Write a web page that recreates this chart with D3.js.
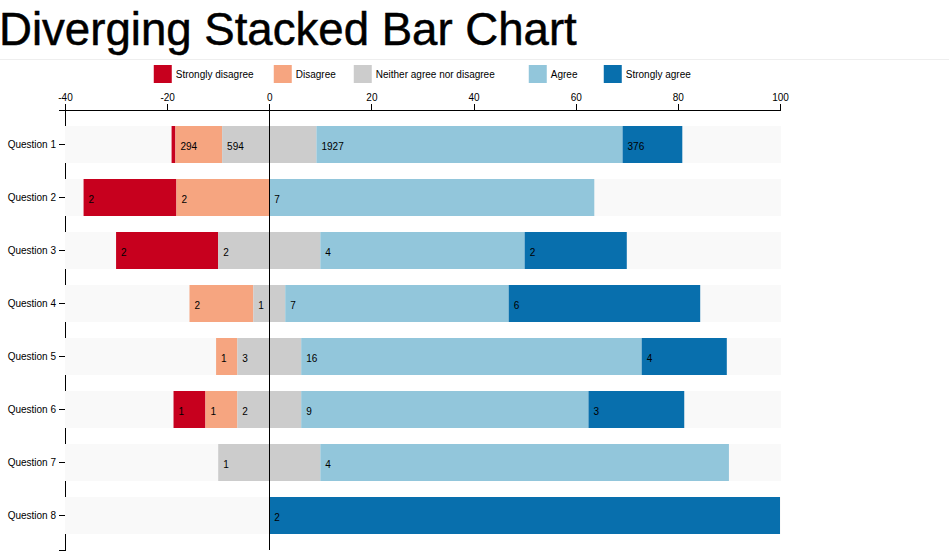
<!DOCTYPE html>
<html>
<head>
<meta charset="utf-8">
<script src="https://cdn.jsdelivr.net/npm/d3@7/dist/d3.min.js"></script>
<style>
  html, body { margin: 0; padding: 0; background: #fff; }
  svg { display: block; }
  .axis path, .axis line { fill: none; stroke: #000; shape-rendering: crispEdges; }
  .axis text { font: 10px "Liberation Sans", Arial, Helvetica, sans-serif; fill: #000; }
</style>
</head>
<body>
<script>
// ---- data ----
const questions = ["Question 1","Question 2","Question 3","Question 4","Question 5","Question 6","Question 7","Question 8"];
const responses = ["Strongly disagree","Disagree","Neither agree nor disagree","Agree","Strongly agree"];
const stronglyDisagree = [24, 2, 2, 0, 0, 1, 0, 0];
const disagree         = [294, 2, 0, 2, 1, 1, 0, 0];
const neither          = [594, 0, 2, 1, 3, 2, 1, 0];
const agree            = [1927, 7, 4, 7, 16, 9, 4, 0];
const stronglyAgree    = [376, 0, 2, 6, 4, 3, 0, 2];
const xTicks = [-40, -20, 0, 20, 40, 60, 80, 100];
const colors = ["#c7001e", "#f6a580", "#cccccc", "#92c6db", "#086fad"];
const legendTabs = [0, 120, 200, 375, 450];

// ---- build rows ----
const series = [stronglyDisagree, disagree, neither, agree, stronglyAgree];
const rows = questions.map((q, i) => {
  const v = series.map(s => s[i]);
  const N = d3.sum(v);
  let x0 = -(v[2] / 2 + v[1] + v[0]) / N * 100;
  const boxes = [];
  // segments: SD, D, N(left half), N(right half), A, SA
  const parts = [
    {k: 0, val: v[0], label: true},
    {k: 1, val: v[1], label: true},
    {k: 2, val: v[2] / 2, n: v[2], label: true},
    {k: 2, val: v[2] / 2, n: v[2], label: false},
    {k: 3, val: v[3], label: true},
    {k: 4, val: v[4], label: true}
  ];
  parts.forEach(p => {
    const start = x0;
    x0 += p.val / N * 100;
    boxes.push({name: responses[p.k], color: colors[p.k], x0: start, x1: x0, n: p.n !== undefined ? p.n : p.val, label: p.label});
  });
  return {question: q, N, boxes};
});

const W = 949, H = 558;
const margin = {top: 50, right: 20, bottom: 10, left: 65};
const width = 800 - margin.left - margin.right;
const height = 500 - margin.top - margin.bottom;
const svgTop = 60;

const svgRoot = d3.select("body").append("svg").attr("width", W).attr("height", H);

// title
svgRoot.append("text")
  .attr("x", -1).attr("y", 45)
  .style("font-family", '"Liberation Sans", Arial, Helvetica, sans-serif')
  .style("font-size", "45.6px")
  .attr("fill", "#000")
  .attr("stroke", "#000")
  .attr("stroke-width", 0.5)
  .text("Diverging Stacked Bar Chart");

svgRoot.append("line")
  .attr("x1", 0).attr("x2", W).attr("y1", 59.5).attr("y2", 59.5)
  .attr("stroke", "#eeeeee").attr("stroke-width", 1);

const svg = svgRoot.append("g")
  .attr("transform", `translate(${margin.left},${svgTop + margin.top})`);

const minX = d3.min(rows, r => r.boxes[0].x0);
const maxX = d3.max(rows, r => r.boxes[r.boxes.length - 1].x1);

const x = d3.scaleLinear().domain([minX, maxX]).range([0, width]).nice(5);
const y = d3.scaleBand().domain(questions).range([0, height]).paddingInner(0.3).paddingOuter(0.3).round(true);

svg.append("g").attr("class", "x axis")
  .call(d3.axisTop(x).tickValues(xTicks).tickFormat(d => String(d)));

svg.append("g").attr("class", "y axis")
  .call(d3.axisLeft(y));

const bars = svg.selectAll(".bar")
  .data(rows)
  .enter().append("g")
  .attr("class", "bar")
  .attr("transform", d => `translate(0,${y(d.question)})`);

bars.append("rect")
  .attr("x", 0)
  .attr("width", width + 1)
  .attr("height", y.bandwidth())
  .attr("fill", "#f9f9f9");

const segs = bars.selectAll(".seg")
  .data(d => d.boxes)
  .enter().append("g").attr("class", "seg");

segs.append("rect")
  .attr("x", d => x(d.x0))
  .attr("width", d => x(d.x1) - x(d.x0))
  .attr("height", y.bandwidth())
  .attr("fill", d => d.color);

segs.append("text")
  .attr("x", d => x(d.x0))
  .attr("y", y.bandwidth() / 2)
  .attr("dy", "0.5em")
  .attr("dx", "0.5em")
  .style("font", '10px "Liberation Sans", Arial, Helvetica, sans-serif')
  .style("text-anchor", "start")
  .attr("fill", "#000")
  .text(d => (d.label && d.n !== 0 && (d.x1 - d.x0) > 3) ? d.n : "");

// zero line
svg.append("g").attr("class", "y axis")
  .append("line")
  .attr("x1", x(0)).attr("x2", x(0))
  .attr("y1", 0).attr("y2", height);

// legend
const startp = svg.append("g").attr("class", "legendbox");
const legend = startp.selectAll(".legend")
  .data(responses)
  .enter().append("g")
  .attr("class", "legend")
  .attr("transform", (d, i) => `translate(${legendTabs[i]},-45)`);

legend.append("rect")
  .attr("width", 18).attr("height", 18)
  .attr("fill", (d, i) => colors[i]);

legend.append("text")
  .attr("x", 22).attr("y", 9).attr("dy", ".35em")
  .style("font", '10px "Liberation Sans", Arial, Helvetica, sans-serif')
  .attr("fill", "#000")
  .text(d => d);

const movesize = width / 2 - startp.node().getBBox().width / 2;
startp.attr("transform", `translate(${movesize},0)`);
</script>
</body>
</html>
